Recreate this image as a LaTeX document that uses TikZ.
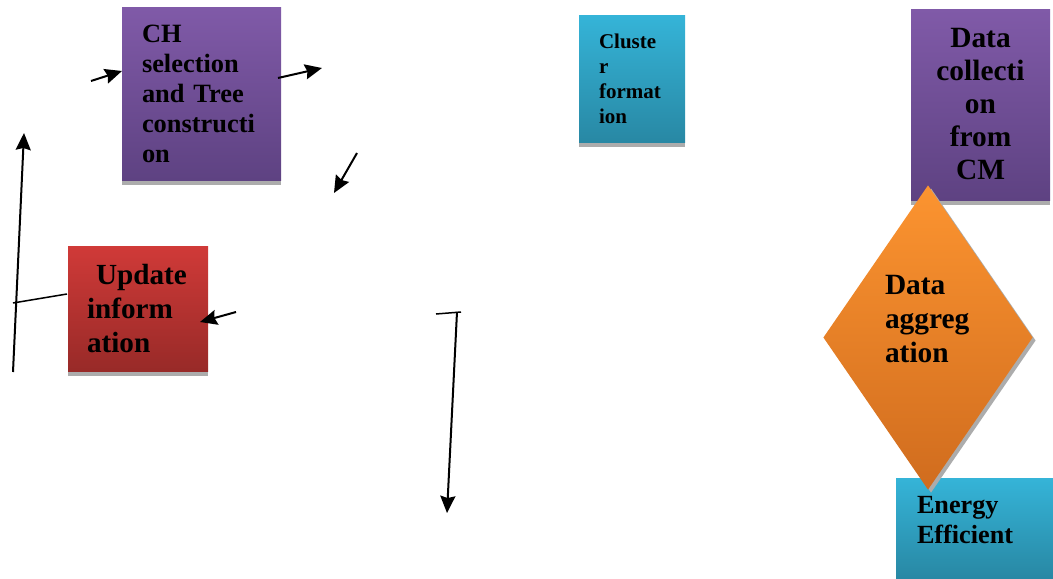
\documentclass[tikz,border=0pt]{standalone}
\usepackage{fontspec}
\setmainfont{Liberation Serif}
\usetikzlibrary{arrows.meta,shapes.geometric,shadows}

\definecolor{purpTop}{HTML}{805AA8}
\definecolor{purpBot}{HTML}{5E4282}
\definecolor{cyanTop}{HTML}{35B4D8}
\definecolor{cyanBot}{HTML}{2888A4}
\definecolor{redTop}{HTML}{D03A38}
\definecolor{redBot}{HTML}{982A28}
\definecolor{oranTop}{HTML}{FC9430}
\definecolor{oranBot}{HTML}{D06C1E}

\begin{document}
\begin{tikzpicture}[x=0.5pt,y=-0.5pt,line width=1pt,
                    >={Stealth[length=8.5pt,width=7.5pt,inset=1pt]},
                    every node/.style={inner sep=0pt,text=black}]
  \tikzstyle{box}=[rectangle,drop shadow={shadow xshift=0pt,shadow yshift=-2.5pt,
                   fill=gray!65,opacity=1}]
  \tikzstyle{purplebox}=[box,top color=purpTop,bottom color=purpBot]
  \tikzstyle{cyanbox}=[box,top color=cyanTop,bottom color=cyanBot]
  \tikzstyle{redbox}=[box,top color=redTop,bottom color=redBot]
  \tikzstyle{decision}=[diamond,top color=oranTop,bottom color=oranBot,
                   drop shadow={shadow xshift=1.5pt,shadow yshift=-1.5pt,
                   fill=gray!65,opacity=1}]
  \tikzstyle{lift}=[execute at end node={\endgraf\vspace*{#1}}]
  \tikzstyle{thin}=[line width=0.75pt]

  \useasboundingbox (0,0) rectangle (1053,578);

  % boxes
  \node[purplebox,minimum width=79.5pt,minimum height=86.5pt,text width=59.5pt,
        align=left,font=\bfseries\fontsize{13.2}{15}\selectfont] (ch) at (201.5,93.5)
        {CH\\selection\\and Tree\\constructi\\on};
  \node[cyanbox,minimum width=53pt,minimum height=63.5pt,text width=33pt,
        align=left,font=\bfseries\fontsize{10.5}{12.5}\selectfont] (clu) at (632,78.5)
        {Cluste\\r\\format\\ion};
  \node[purplebox,minimum width=69.5pt,minimum height=95.5pt,text width=60pt,
        align=center,font=\bfseries\fontsize{14.7}{16.5}\selectfont] (dc) at (980.5,104.5)
        {Data\\collecti\\on\\from\\CM};
  \node[redbox,minimum width=70pt,minimum height=62.5pt,text width=51pt,
        align=left,font=\bfseries\fontsize{14.6}{17}\selectfont] (upd) at (138,308.5)
        {\hspace*{4.5pt}Update\\inform\\ation};
  \node[cyanbox,minimum width=78.5pt,minimum height=50pt,text width=57.5pt,
        align=left,lift=8pt,font=\bfseries\fontsize{13.1}{15}\selectfont] (ee) at (974.5,528)
        {Energy\\Efficient};
  \node[decision,minimum width=105pt,minimum height=152.5pt,text width=43pt,
        align=left,lift=18pt,font=\bfseries\fontsize{14.7}{17}\selectfont] (agg) at (928,337.5)
        {Data\\aggreg\\ation};

  % loose ends of the connectors
  \coordinate (in1) at (91,81);
  \coordinate (in1e) at (122,71);
  \coordinate (out1) at (278,78);
  \coordinate (out1e) at (322,68);
  \coordinate (dn1) at (357,153);
  \coordinate (dn1e) at (334,193);
  \coordinate (up1) at (236,312);
  \coordinate (up1e) at (200,322);
  \coordinate (lb) at (13,372);
  \coordinate (lt) at (24,133);
  \coordinate (lm) at (13,303);
  \coordinate (lu) at (67,294);
  \coordinate (br1) at (436,314);
  \coordinate (br2) at (461,312);
  \coordinate (br3) at (457,312);
  \coordinate (br4) at (447,513);

  \draw[->] (in1) -- (in1e);
  \draw[->] (out1) -- (out1e);
  \draw[->] (dn1) -- (dn1e);
  \draw[->] (up1) -- (up1e);
  \draw[->] (lb) -- (lt);
  \draw[thin] (lm) -- (lu);
  \draw[thin] (br1) -- (br2);
  \draw[->] (br3) -- (br4);
\end{tikzpicture}
\end{document}
